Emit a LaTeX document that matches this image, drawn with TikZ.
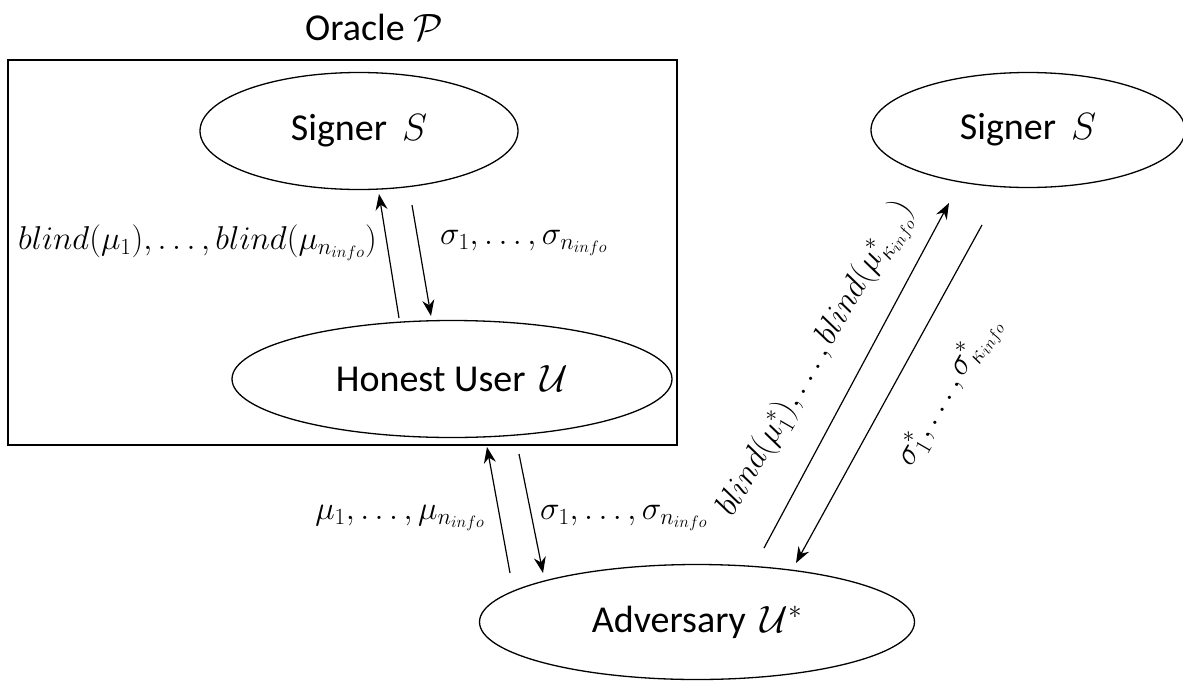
\documentclass[tikz,border=0pt]{standalone}
\usepackage{fix-cm}
\usepackage{fontspec}
\setmainfont{Carlito}
\usetikzlibrary{arrows.meta,shapes.geometric}
\begin{document}
\begin{tikzpicture}[x=1pt,y=-1pt,
  txt/.style={font=\fontsize{38}{45}\selectfont},
  lbl/.style={font=\fontsize{33}{40}\selectfont, inner sep=0pt},
  party/.style={draw, ellipse, line width=1.3pt, inner sep=0pt, font=\fontsize{38}{45}\selectfont},
  msg/.style={line width=1.2pt, -{Stealth[length=16pt,width=12pt]}}]
\useasboundingbox (0,0) rectangle (1183,683);
% oracle box
\node[draw, line width=1.3pt, minimum width=669pt, minimum height=385pt, inner sep=0pt] (box) at (342.5,252.5) {};
\node[txt] (oracle) at (374,27) {Oracle $\mathcal{P}$};
% parties
\node[party, minimum width=318pt, minimum height=117pt] (s1) at (359,131) {Signer\, $S$};
\node[party, minimum width=440pt, minimum height=117pt] (hu) at (452,379) {Honest User\, $\mathcal{U}$};
\node[party, minimum width=314pt, minimum height=115pt] (s2) at (1028,130) {Signer\, $S$};
\node[party, minimum width=435pt, minimum height=115pt] (adv) at (697,622) {Adversary\, $\mathcal{U}^*$};
% arrow end points
\coordinate (a1s) at (399,318); \coordinate (a1e) at (379,194);
\coordinate (a2s) at (412,205); \coordinate (a2e) at (431,316);
\coordinate (b1s) at (510,573); \coordinate (b1e) at (487,447);
\coordinate (b2s) at (519,454); \coordinate (b2e) at (543,573);
\coordinate (c1s) at (764,548); \coordinate (c1e) at (949,203);
\coordinate (c2s) at (982,225); \coordinate (c2e) at (796,563);
\draw[msg] (a1s) -- (a1e);
\draw[msg] (a2s) -- (a2e);
\draw[msg] (b1s) -- (b1e);
\draw[msg] (b2s) -- (b2e);
\draw[msg] (c1s) -- (c1e);
\draw[msg] (c2s) -- (c2e);
% labels
\node[lbl, anchor=east] (l1) at (377,243) {$blind(\mu_1),\ldots,blind(\mu_{n_{info}})$};
\node[lbl, anchor=west] (l2) at (440,243) {$\sigma_1,\ldots,\sigma_{n_{info}}$};
\node[lbl, anchor=east] (l3) at (485,518) {$\mu_1,\ldots,\mu_{n_{info}}$};
\node[lbl, anchor=west] (l4) at (540,518) {$\sigma_1,\ldots,\sigma_{n_{info}}$};
\node[lbl, rotate=60] (l5) at (818,360) {$blind(\mu^*_1),\ldots,blind(\mu^*_{\kappa_{info}})$};
\node[lbl, rotate=60] (l6) at (950,392) {$\sigma^*_1,\ldots,\sigma^*_{\kappa_{info}}$};
\end{tikzpicture}
\end{document}
